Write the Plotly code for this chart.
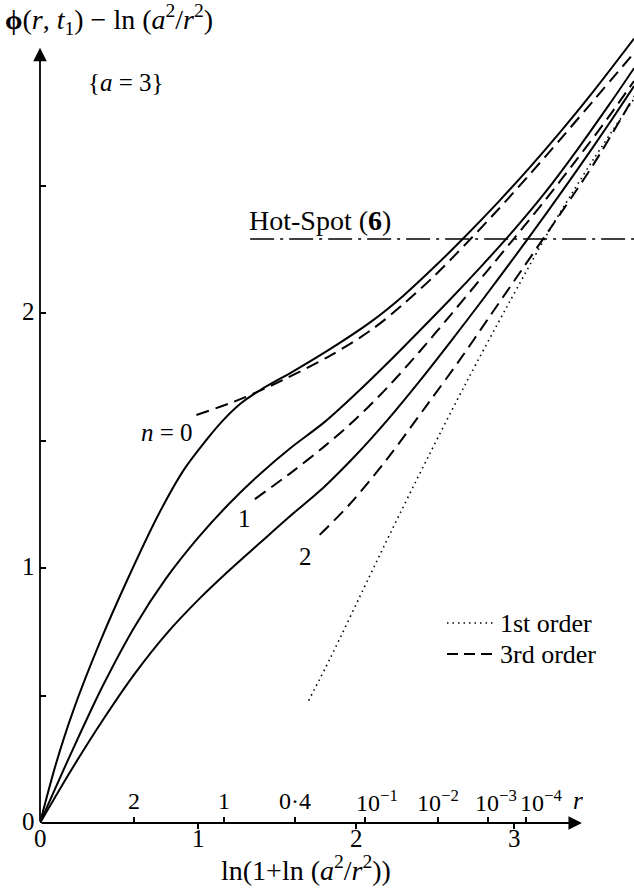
import plotly.graph_objects as go
import numpy as np

# ---------------- data ----------------
A_PARAM = 3.0

# exact curves (solid), n = 0, 1, 2
x_n0 = [0, 0.1, 0.21, 0.38, 0.55, 0.75, 0.91, 1.05, 1.16, 1.27, 1.4, 1.6, 1.84, 2.1, 2.3, 2.5, 2.7, 2.9, 3.1, 3.3, 3.5, 3.76]
y_n0 = [0, 0.23, 0.44, 0.71, 0.95, 1.21, 1.385, 1.50, 1.58, 1.645, 1.70, 1.77, 1.86, 1.968, 2.068, 2.183, 2.306, 2.435, 2.571, 2.715, 2.867, 3.076]

x_n1 = [0, 0.2, 0.4, 0.6, 0.8, 1.0, 1.2, 1.4, 1.58, 1.8, 2.0, 2.2, 2.4, 2.6, 2.8, 3.0, 3.2, 3.4, 3.6, 3.76]
y_n1 = [0, 0.278, 0.541, 0.771, 0.961, 1.118, 1.254, 1.373, 1.468, 1.572, 1.684, 1.804, 1.929, 2.056, 2.188, 2.326, 2.475, 2.64, 2.815, 2.96]

x_n2 = [0, 0.2, 0.4, 0.6, 0.8, 1.0, 1.2, 1.4, 1.58, 1.8, 2.0, 2.2, 2.4, 2.6, 2.8, 3.0, 3.2, 3.4, 3.6, 3.76]
y_n2 = [0, 0.21, 0.406, 0.586, 0.742, 0.874, 0.992, 1.103, 1.202, 1.319, 1.443, 1.581, 1.731, 1.889, 2.051, 2.217, 2.387, 2.561, 2.741, 2.89]

# 3rd-order approximations (dashed)
x_n0_3rd = [0.99, 1.28, 1.55, 1.84, 2.1, 2.3, 2.5, 2.7, 2.9, 3.1, 3.3, 3.5, 3.76]
y_n0_3rd = [1.60, 1.665, 1.741, 1.834, 1.935, 2.035, 2.148, 2.274, 2.406, 2.544, 2.686, 2.831, 3.02]

x_n1_3rd = [1.36, 1.6, 1.8, 2.0, 2.2, 2.4, 2.6, 2.8, 3.0, 3.2, 3.4, 3.6, 3.76]
y_n1_3rd = [1.27, 1.379, 1.477, 1.585, 1.709, 1.847, 1.993, 2.142, 2.292, 2.445, 2.604, 2.77, 2.91]

x_n2_3rd = [1.77, 1.96, 2.2, 2.45, 2.65, 2.85, 3.05, 3.25, 3.5, 3.76]
y_n2_3rd = [1.13, 1.25, 1.43, 1.64, 1.81, 1.99, 2.17, 2.35, 2.58, 2.85]

# 1st-order approximation (dotted)
x_1st = [1.70, 1.84, 2.08, 2.22, 2.46, 2.70, 2.96, 3.23, 3.5, 3.76]
y_1st = [0.48, 0.65, 0.96, 1.14, 1.44, 1.73, 2.03, 2.33, 2.60, 2.84]

# hot-spot level
hot_spot_y = 2.29
hot_spot_x = [1.33, 3.76]

# r scale on the upper side of the abscissa
r_values = [2, 1, 0.4, 1e-1, 1e-2, 1e-3, 1e-4]
r_labels = ["2", "1", "0·4", "10<sup>−1</sup>", "10<sup>−2</sup>", "10<sup>−3</sup>", "10<sup>−4</sup>"]
r_positions = [float(np.log(1 + np.log(A_PARAM**2 / r**2))) for r in r_values]

x_ticks = [1, 2, 3]
x_tick_labels = ["0", "1", "2", "3"]
x_tick_label_vals = [0, 1, 2, 3]
y_ticks = [0.5, 1, 1.5, 2, 2.5]
y_tick_labels = ["0", "1", "2"]
y_tick_label_vals = [0, 1, 2]

# ---------------- figure ----------------
W, H = 634, 889
ML, MB = 40, 66
PX_PER_X, PX_PER_Y = 158.0, 255.0
X_MAX = (W - ML) / PX_PER_X
Y_MAX = (H - MB) / PX_PER_Y
R_LABEL_SHIFT = [0, 0, 0, 12, 0, 8, 15]

def px(xpix):
    return (xpix - ML) / (W - ML)

def py(ypix):
    return ((H - MB) - ypix) / (H - MB)

FONT = "Liberation Serif"
LW = 2.0
DASH = "13px,7px"
DOT = "1.5px,4px"

fig = go.Figure()

def add_line(x, y, dash="solid", width=LW):
    fig.add_trace(go.Scatter(x=x, y=y, mode="lines",
                             line=dict(color="black", width=width, dash=dash, shape="spline", smoothing=0.9),
                             hoverinfo="skip"))

add_line(x_n0, y_n0)
add_line(x_n1, y_n1)
add_line(x_n2, y_n2)
add_line(x_n0_3rd, y_n0_3rd, dash=DASH)
add_line(x_n1_3rd, y_n1_3rd, dash=DASH)
add_line(x_n2_3rd, y_n2_3rd, dash=DASH)
add_line(x_1st, y_1st, dash=DOT, width=1.6)
fig.add_trace(go.Scatter(x=hot_spot_x, y=[hot_spot_y, hot_spot_y], mode="lines",
                         line=dict(color="black", width=1.4, dash="24px,6px,3px,6px"), hoverinfo="skip"))
# invisible trace to carry the upper (r) scale
fig.add_trace(go.Scatter(x=[0], y=[0], xaxis="x2", mode="markers", marker=dict(opacity=0), hoverinfo="skip"))

annotations = []
# axis arrows
annotations.append(dict(x=3.43, y=0, ax=0, ay=0, xref="x", yref="y", axref="x", ayref="y", text="",
                        showarrow=True, arrowhead=2, arrowsize=1.5, arrowwidth=1.8, arrowcolor="black"))
annotations.append(dict(x=0, y=3.04, ax=0, ay=0, xref="x", yref="y", axref="x", ayref="y", text="",
                        showarrow=True, arrowhead=2, arrowsize=1.5, arrowwidth=1.8, arrowcolor="black"))

def text(t, xpix, ypix, anchor="center", size=25):
    annotations.append(dict(text=t, x=px(xpix), y=py(ypix), xref="paper", yref="paper",
                            xanchor=anchor, yanchor="middle", showarrow=False,
                            font=dict(family=FONT, size=size, color="black")))

# tick labels
for v, lab in zip(x_tick_label_vals, x_tick_labels):
    annotations.append(dict(text=lab, x=v, y=py(838), xref="x", yref="paper", xanchor="center",
                            yanchor="middle", showarrow=False, font=dict(family=FONT, size=25, color="black")))
for v, lab in zip(y_tick_label_vals, y_tick_labels):
    annotations.append(dict(text=lab, x=px(37), y=v, xref="paper", yref="y", xanchor="right",
                            yanchor="middle", yshift=2, showarrow=False,
                            font=dict(family=FONT, size=25, color="black")))
for v, lab, sh in zip(r_positions, r_labels, R_LABEL_SHIFT):
    annotations.append(dict(text=lab, x=v, y=py(801), xref="x", yref="paper", xanchor="center",
                            yanchor="middle", xshift=sh, showarrow=False,
                            font=dict(family=FONT, size=24, color="black")))

text("<b>ϕ</b>(<i>r</i>, <i>t</i><sub>1</sub>) − ln\u00a0(<i>a</i><sup>2</sup>/<i>r</i><sup>2</sup>)", 3, 20, anchor="left", size=28)
text("{<i>a</i> = 3}", 126, 82)
text("Hot-Spot (<b>6</b>)", 247, 221, anchor="left", size=28)
text("<i>n</i> = 0", 167, 432)
text("1", 244, 518)
text("2", 305, 556)
text("1st order", 498, 623, anchor="left", size=26)
text("3rd order", 498, 654, anchor="left", size=26)
text("ln(1+ln\u00a0(<i>a</i><sup>2</sup>/<i>r</i><sup>2</sup>))", 306, 868, size=28)
text("<i>r</i>", 578, 800)

shapes = [
    dict(type="line", xref="paper", yref="paper", x0=px(447), x1=px(494), y0=py(623), y1=py(623),
         line=dict(color="black", width=1.6, dash=DOT)),
    dict(type="line", xref="paper", yref="paper", x0=px(447), x1=px(493), y0=py(654), y1=py(654),
         line=dict(color="black", width=LW, dash="11px,6px")),
]

fig.update_layout(
    width=W, height=H,
    margin=dict(l=ML, r=0, t=0, b=MB),
    paper_bgcolor="white", plot_bgcolor="white",
    showlegend=False,
    font=dict(family=FONT, size=25, color="black"),
    xaxis=dict(range=[0, X_MAX], showgrid=False, zeroline=False, showline=False,
               tickvals=x_ticks, ticks="outside", ticklen=5, tickwidth=1.5,
               tickcolor="black", showticklabels=False, fixedrange=True),
    xaxis2=dict(range=[0, X_MAX], overlaying="x", anchor="free", position=0, side="top",
                showgrid=False, zeroline=False, showline=False,
                tickvals=r_positions, ticks="outside", ticklen=6, tickwidth=1.5,
                tickcolor="black", showticklabels=False),
    yaxis=dict(range=[0, Y_MAX], showgrid=False, zeroline=False, showline=False,
               tickvals=y_ticks, ticks="inside", ticklen=6, tickwidth=1.5,
               tickcolor="black", showticklabels=False),
    annotations=annotations,
    shapes=shapes,
)

fig.write_html("out.html")
